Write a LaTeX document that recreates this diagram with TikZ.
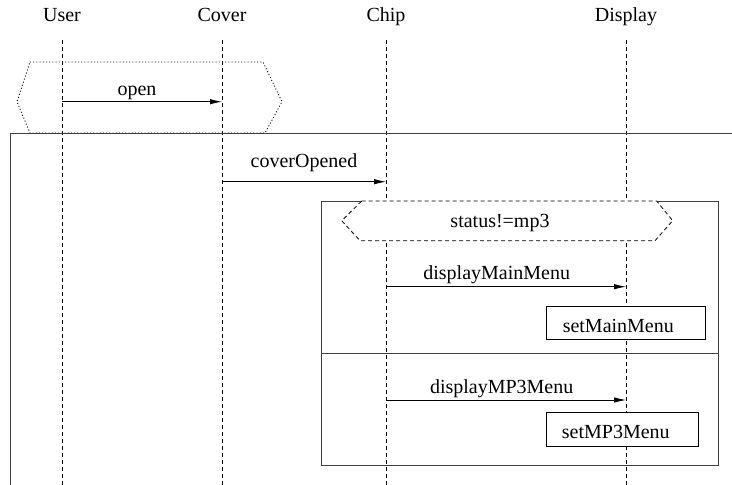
\documentclass[tikz,border=0pt]{standalone}
\usepackage{fontspec}
\setmainfont{Liberation Serif}
\usetikzlibrary{arrows.meta}
\begin{document}
\begin{tikzpicture}[x=1pt,y=-1pt,
  lbl/.style={font=\fontsize{20}{24}\selectfont, inner sep=0pt, anchor=base},
  life/.style={dash pattern=on 4pt off 3pt, line width=0.8pt},
  msg/.style={line width=0.8pt, -{Latex[length=12pt,width=5.5pt]}},
  frm/.style={line width=0.9pt, draw=black!75},
  guard/.style={fill=white, line width=0.8pt, dash pattern=on 4pt off 3pt},
  optg/.style={line width=0.9pt, dash pattern=on 1pt off 2.2pt},
  actbox/.style={draw, fill=white, line width=0.8pt}]
\useasboundingbox (0,0) rectangle (732,485);
% headers
\node[lbl] (user) at (62,21.7) {User};
\node[lbl] (cover) at (222,21.7) {Cover};
\node[lbl] (chip) at (386,21.7) {Chip};
\node[lbl] (display) at (626,21.7) {Display};
% lifeline ends
\coordinate (uT) at (62,40);   \coordinate (uB) at (62,485);
\coordinate (cT) at (222,40);  \coordinate (cB) at (222,485);
\coordinate (hT) at (386,40);  \coordinate (hB) at (386,485);
\coordinate (dT) at (626,40);  \coordinate (dB) at (626,485);
\draw[life] (uT) -- (uB);
\draw[life] (cT) -- (cB);
\draw[life] (hT) -- (hB);
\draw[life] (dT) -- (dB);
% dotted hexagon
\draw[optg] (30,62) -- (263,62) -- (282,101.7) -- (265,133) -- (30,133) -- (17,101.7) -- cycle;
% outer frame
\draw[frm] (732,133) -- (10,133) -- (10,485);
% open
\coordinate (o1) at (62,101.7); \coordinate (o2) at (222,101.7);
\draw[msg] (o1) -- (o2);
\node[lbl] (openl) at (137,95.7) {open};
% coverOpened
\coordinate (co1) at (222,181.7); \coordinate (co2) at (386,181.7);
\draw[msg] (co1) -- (co2);
\node[lbl] (copl) at (304,167.3) {coverOpened};
% inner alt frame
\draw[frm] (321,201) rectangle (718,465);
\draw[frm] (321,353.3) -- (718,353.3);
% guard
\draw[guard] (361.7,201) -- (656.7,201) -- (672.7,220.7) -- (655,240.7) -- (360,240.7) -- (341.7,220.7) -- cycle;
\node[lbl] (grd) at (500,227.3) {status!=mp3};
% displayMainMenu
\coordinate (dm1) at (386,286.7); \coordinate (dm2) at (626,286.7);
\draw[msg] (dm1) -- (dm2);
\node[lbl] (dml) at (496.7,279.3) {displayMainMenu};
\draw[actbox] (546.7,306.7) rectangle (705.7,339.3);
\node[lbl] (smm) at (618.3,332.3) {setMainMenu};
% displayMP3Menu
\coordinate (dp1) at (386,400); \coordinate (dp2) at (626,400);
\draw[msg] (dp1) -- (dp2);
\node[lbl] (dpl) at (501.7,393.3) {displayMP3Menu};
\draw[actbox] (546.7,412.3) rectangle (698.3,446);
\node[lbl] (smp) at (615.8,438.3) {setMP3Menu};
\end{tikzpicture}
\end{document}
